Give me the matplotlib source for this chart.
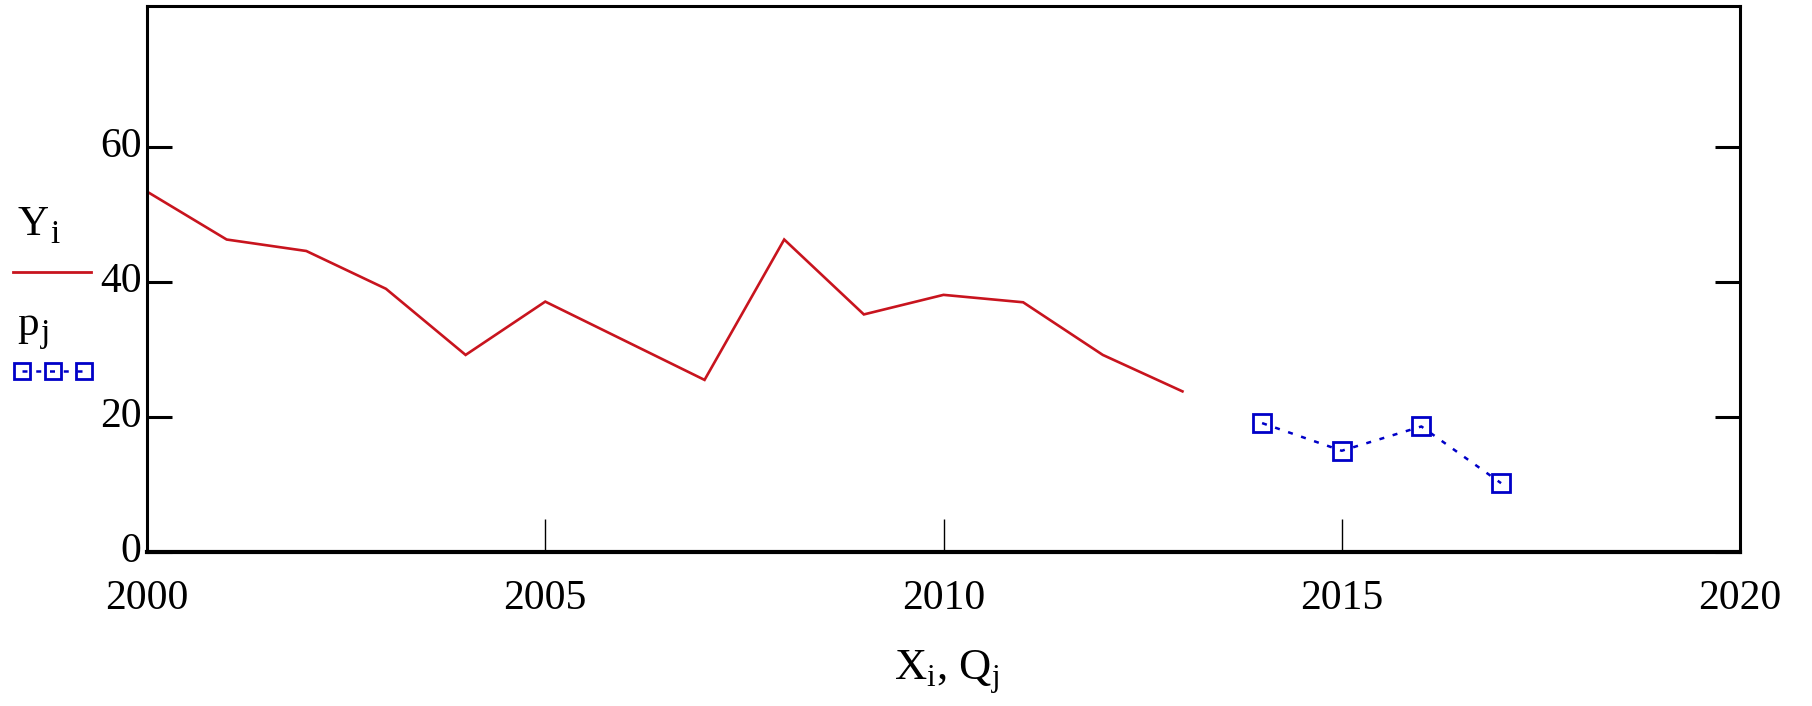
import matplotlib
matplotlib.use("Agg")
import matplotlib.pyplot as plt
from matplotlib.lines import Line2D

# Data
years_Y = [2000, 2001, 2002, 2003, 2004, 2005, 2006, 2007, 2008, 2009, 2010, 2011, 2012, 2013]
Y = [53.4, 46.3, 44.6, 39.0, 29.2, 37.1, 31.3, 25.5, 46.3, 35.2, 38.1, 37.0, 29.2, 23.8]
years_p = [2014, 2015, 2016, 2017]
p = [19.1, 15.0, 18.6, 10.2]
xticks = [2000, 2005, 2010, 2015, 2020]
yticks = [0, 20, 40, 60]

RED = "#c8141e"
BLUE = "#0000c8"
FONT = "Liberation Serif"

W, H = 1812, 706
PT = 0.72  # points per pixel at dpi 100
fig = plt.figure(figsize=(W / 100, H / 100), dpi=100)
left, right, top, bottom = 147, 1740, 6, 552
ax = fig.add_axes([left / W, 1 - bottom / H, (right - left) / W, (bottom - top) / H])

ax.plot(years_Y, Y, color=RED, lw=1.9, solid_joinstyle="miter")
ax.plot(years_p, p, color=BLUE, lw=1.8, ls=(0, (2.0, 3.5)),
        marker="s", ms=12.5, mfc="none", mec=BLUE, mew=2.0)

ax.set_xlim(2000, 2020)
ax.set_ylim(0, 80.9)
ax.set_xticks(xticks)
ax.set_yticks(yticks)
ax.set_xticklabels([str(v) for v in xticks], fontfamily=FONT, fontsize=30)
ax.set_yticklabels([str(v) for v in yticks], fontfamily=FONT, fontsize=30)
ax.tick_params(axis="y", direction="in", length=25 * PT, width=2.2, right=True, pad=4)
ax.tick_params(axis="x", direction="in", length=33 * PT, width=1.0, pad=20)
for lab in ax.get_yticklabels():
    lab.set_verticalalignment("center")
for s in ax.spines.values():
    s.set_linewidth(2.2)
ax.spines["bottom"].set_linewidth(3.0)

fig.text(947 / W, 1 - 672 / H, r"X$_\mathregular{i}$, Q$_\mathregular{j}$",
         ha="center", va="center", fontfamily=FONT, fontsize=32)

# Legend at the left
fig.text(17 / W, 1 - 235 / H, "Y", ha="left", va="baseline", fontfamily=FONT, fontsize=31)
fig.text(50 / W, 1 - 243 / H, "i", ha="left", va="baseline", fontfamily=FONT, fontsize=24)
fig.add_artist(Line2D([13 / W, 91 / W], [1 - 272 / H, 1 - 272 / H], color=RED, lw=2.0,
                      transform=fig.transFigure))
fig.text(17 / W, 1 - 335 / H, "p", ha="left", va="baseline", fontfamily=FONT, fontsize=31)
fig.text(41 / W, 1 - 342 / H, "j", ha="left", va="baseline", fontfamily=FONT, fontsize=24)
fig.add_artist(Line2D([22 / W, 53 / W, 84 / W], [1 - 371 / H] * 3, color=BLUE, lw=1.8,
                      ls=(0, (2.0, 3.5)), marker="s", ms=11.5, mfc="none", mec=BLUE, mew=2.0,
                      transform=fig.transFigure))

fig.savefig("out.png", dpi=100)
